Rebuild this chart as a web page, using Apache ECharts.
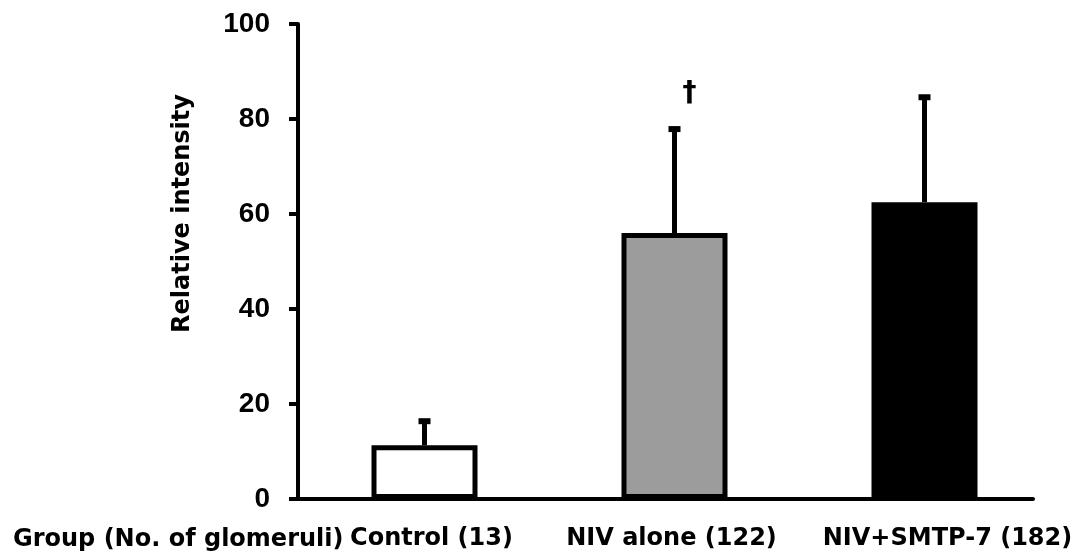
<!DOCTYPE html>
<html>
<head>
<meta charset="utf-8">
<script src="https://cdn.jsdelivr.net/npm/echarts@6/dist/echarts.min.js"></script>
<style>
html,body{margin:0;padding:0;background:#fff;}
#chart{width:1090px;height:559px;}
</style>
</head>
<body>
<div id="chart"></div>
<script>
// ---- data ----
var categories = ['Control (13)', 'NIV alone (122)', 'NIV+SMTP-7 (182)'];
var means = [11.3, 56.0, 62.5];
var upperErrors = [16.8, 78.3, 85.0];
var significance = ['', '\u2020', ''];
var yTicks = [0, 20, 40, 60, 80, 100];
var groupLabel = 'Group (No. of glomeruli)';
var yTitle = 'Relative intensity';

// ---- styling ----
var fills = ['#ffffff', '#9c9c9c', '#000000'];
var labelShift = [14, -6, 46]; // px of padding used to nudge label centering
var FONT = 'DejaVu Sans';

var chart = echarts.init(document.getElementById('chart'), null, {renderer: 'canvas'});

var rich = {};
categories.forEach(function (c, i) {
  rich['s' + i] = {
    fontFamily: FONT, fontWeight: 'bold', fontSize: 24, color: '#000',
    padding: labelShift[i] >= 0 ? [0, 0, 0, labelShift[i]] : [0, -labelShift[i], 0, 0]
  };
});

var option = {
  backgroundColor: '#ffffff',
  animation: false,
  title: {
    text: groupLabel,
    left: 8, top: 523,
    textStyle: {fontFamily: FONT, fontWeight: 'bold', fontSize: 24, color: '#000'}
  },
  grid: {left: 298, right: 57, top: 24, bottom: 60, containLabel: false},
  xAxis: {
    type: 'value',
    min: -0.506, max: 2.434,
    splitLine: {show: false},
    axisLine: {show: true, onZero: false, lineStyle: {color: '#000', width: 4}},
    axisTick: {show: false},
    axisLabel: {
      customValues: [0, 1, 2],
      margin: 28,
      formatter: function (v) {
        var i = Math.round(v);
        return '{s' + i + '|' + categories[i] + '}';
      },
      rich: rich
    }
  },
  yAxis: {
    type: 'value',
    min: 0, max: 100, interval: 20,
    name: yTitle,
    nameLocation: 'middle',
    nameRotate: 90,
    nameGap: 103,
    nameTextStyle: {fontFamily: FONT, fontWeight: 'bold', fontSize: 24, color: '#000', padding: [0, 0, 0, 96]},
    splitLine: {show: false},
    axisLine: {show: true, onZero: false, lineStyle: {color: '#000', width: 4}},
    axisTick: {show: true, length: 9, lineStyle: {color: '#000', width: 4}},
    axisLabel: {
      margin: 28,
      fontFamily: 'Liberation Sans', fontWeight: 'bold', fontSize: 28, color: '#000',
      formatter: function (v) { return yTicks.indexOf(v) >= 0 ? String(v) : ''; }
    }
  },
  series: [
    {
      type: 'custom',
      z: 1,
      renderItem: function (params, api) {
        var x = api.value(0);
        var top = api.coord([x, api.value(1)]);
        var up = api.coord([x, api.value(2)]);
        var children = [
          {type: 'line', shape: {x1: top[0], y1: top[1], x2: up[0], y2: up[1] + 2}, style: {stroke: '#000', lineWidth: 5}},
          {type: 'line', shape: {x1: up[0] - 6, y1: up[1] + 2, x2: up[0] + 6, y2: up[1] + 2}, style: {stroke: '#000', lineWidth: 6}}
        ];
        var s = significance[params.dataIndex];
        if (s) {
          children.push({
            type: 'text',
            style: {text: s, x: up[0] + 15, y: up[1] - 33, align: 'center', verticalAlign: 'middle',
              fontFamily: FONT, fontWeight: 'bold', fontSize: 28, fill: '#000'}
          });
        }
        return {type: 'group', children: children};
      },
      data: means.map(function (m, i) { return [i, m, upperErrors[i]]; })
    },
    {
      type: 'bar',
      z: 2,
      barWidth: 106,
      data: means.map(function (m, i) {
        return {value: [i, m], itemStyle: {color: fills[i], borderColor: '#000', borderWidth: 5}};
      })
    }
  ]
};
chart.setOption(option);
</script>
</body>
</html>
